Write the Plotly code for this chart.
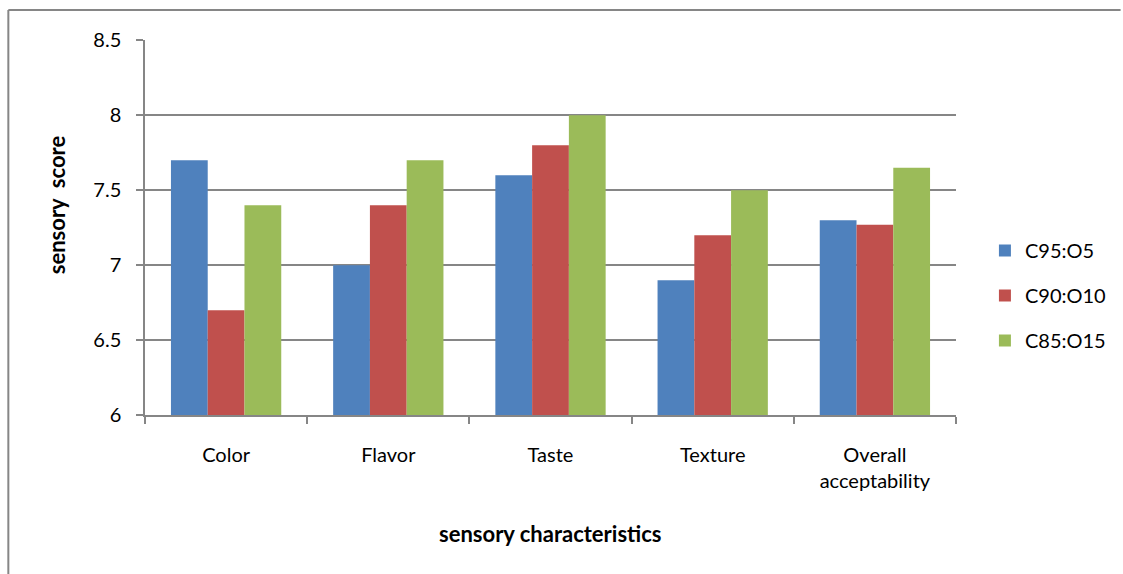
import plotly.graph_objects as go

categories = ["Color", "Flavor", "Taste", "Texture", "Overall<br>acceptability"]
c95_o5 = [7.7, 7.0, 7.6, 6.9, 7.3]
c90_o10 = [6.7, 7.4, 7.8, 7.2, 7.27]
c85_o15 = [7.4, 7.7, 8.0, 7.5, 7.65]
series_names = ["C95:O5", "C90:O10", "C85:O15"]
series_colors = ["#4F81BD", "#C0504D", "#9BBB59"]
y_ticks = [6, 6.5, 7, 7.5, 8, 8.5]
y_tick_text = ["6", "6.5", "7", "7.5", "8", "8.5"]

FONT = "Lato, Calibri, 'Liberation Sans', sans-serif"
GRID = "#868686"

fig = go.Figure()
for name, vals, col in zip(series_names, [c95_o5, c90_o10, c85_o15], series_colors):
    fig.add_trace(go.Bar(
        x=categories, y=vals, name=name, legendgroup=name,
        marker=dict(color=col, line=dict(width=0)),
    ))

W, H = 1123, 574
L, R, T, B = 145, 165, 40, 159
pw, ph = W - L - R, H - T - B

def px_x(x):
    return (x - L) / pw

def px_y(y):
    return (H - B - y) / ph

fig.update_layout(
    width=W, height=H,
    margin=dict(l=L, r=R, t=T, b=B),
    paper_bgcolor="white", plot_bgcolor="white",
    font=dict(family=FONT, size=20, color="black"),
    barmode="group", bargap=0.32, bargroupgap=0,
    showlegend=True,
    legend=dict(
        x=px_x(987), y=px_y(231), xanchor="left", yanchor="top",
        font=dict(family=FONT, size=20, color="black"),
        tracegroupgap=16, traceorder="grouped",
        bgcolor="rgba(0,0,0,0)",
    ),
    xaxis=dict(
        showline=True, linecolor=GRID, linewidth=1.5,
        ticks="outside", tickson="boundaries", ticklen=7, tickcolor=GRID, tickwidth=1.5,
        tickfont=dict(family=FONT, size=20),
        ticklabelstandoff=21,
        showgrid=False,
    ),
    yaxis=dict(
        range=[6, 8.503], tickvals=y_ticks, ticktext=y_tick_text,
        showline=True, linecolor=GRID, linewidth=1.5,
        ticks="outside", ticklen=7, tickcolor=GRID, tickwidth=1.5,
        ticklabelstandoff=11,
        showgrid=True, gridcolor=GRID, gridwidth=1.5,
        tickfont=dict(family=FONT, size=20),
        zeroline=False,
    ),
    annotations=[
        dict(text="<b>sensory  score</b>", xref="paper", yref="paper",
             x=px_x(57), y=px_y(205), xanchor="center", yanchor="middle",
             textangle=-90, showarrow=False,
             font=dict(family=FONT, size=22)),
        dict(text="<b>sensory characteristics</b>", xref="paper", yref="paper",
             x=px_x(551), y=px_y(533), xanchor="center", yanchor="middle",
             showarrow=False,
             font=dict(family=FONT, size=22)),
    ],
    shapes=[
        dict(type="line", xref="paper", yref="paper",
             x0=px_x(8), x1=px_x(1123), y0=px_y(10), y1=px_y(10),
             line=dict(color=GRID, width=2)),
        dict(type="line", xref="paper", yref="paper",
             x0=px_x(8), x1=px_x(8), y0=px_y(10), y1=px_y(574),
             line=dict(color=GRID, width=2)),
    ],
)

fig.write_html("out.html")
